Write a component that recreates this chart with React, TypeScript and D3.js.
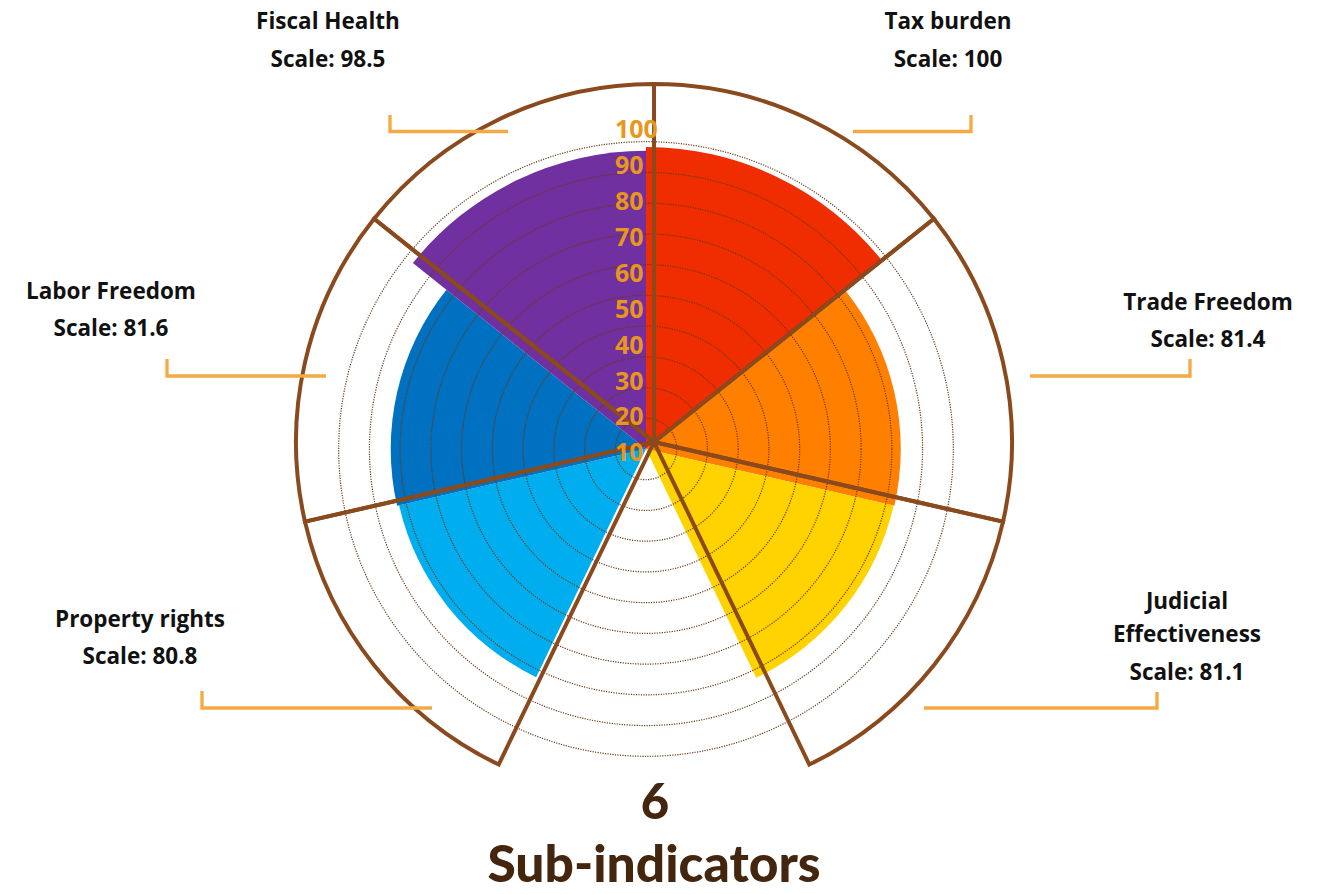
import React from "react";
import * as d3 from "d3";

// ---------- DATA ----------
const subIndicators = [
  "Tax burden",
  "Trade Freedom",
  "Judicial Effectiveness",
  "Property rights",
  "Labor Freedom",
  "Fiscal Health",
];
const scores = [100, 81.4, 81.1, 80.8, 81.6, 98.5];
// slot of each sub-indicator among the 7 equal slices (slot 3 is left empty)
const slots = [0, 1, 2, 4, 5, 6];
const slotCount = 7;
const labelLines = [
  ["Tax burden"],
  ["Trade Freedom"],
  ["Judicial", "Effectiveness"],
  ["Property rights"],
  ["Labor Freedom"],
  ["Fiscal Health"],
];
const radialTicks = [10, 20, 30, 40, 50, 60, 70, 80, 90, 100];
const titleNumber = "6";
const titleText = "Sub-indicators";

// ---------- STYLE / LAYOUT ----------
const sectorColors = ["#EF2D00", "#FF7F00", "#FFD300", "#00AEEF", "#0070C0", "#7030A0"];
const brown = "#8A4A1D";
const bracketColor = "#F4A943";
const tickColor = "#E8961C";
const titleColor = "#44260F";

// label layout: text centre x, first baseline y, line gap, bracket path points
const labelLayout = [
  { x: 948, y: 29, gap: 38, bracket: [[853, 131.5], [971, 131.5], [971, 115]] },
  { x: 1208, y: 310, gap: 37, bracket: [[1030, 376], [1190, 376], [1190, 359]] },
  { x: 1187, y: 609, gap: 33, bracket: [[924, 708], [1157, 708], [1157, 692]] },
  { x: 140, y: 627, gap: 37, bracket: [[432, 708], [202, 708], [202, 691]] },
  { x: 111, y: 299, gap: 37, bracket: [[326, 376], [167, 376], [167, 359]] },
  { x: 328, y: 29, gap: 38, bracket: [[508, 131.5], [390, 131.5], [390, 115]] },
];

const W = 1322;
const H = 894;
const frameCenter = { x: 654, y: 442 };
const frameRadius = 358;
const plotCenter = { x: 646, y: 449 };

export default function App() {
  const angle = d3.scaleLinear().domain([0, slotCount]).range([0, 2 * Math.PI]);
  const rSector = d3.scaleLinear().domain([0, 100]).range([48, 302]);
  const rGrid = d3.scaleLinear().domain([0, 100]).range([0, 307.3]);
  const tickY = d3.scaleLinear().domain([10, 100]).range([452.3, 129.2]);

  const frameArc = d3
    .arc<number>()
    .innerRadius(0)
    .outerRadius(frameRadius)
    .startAngle((s) => angle(s))
    .endAngle((s) => angle(s + 1));

  const sectorArc = d3
    .arc<{ slot: number; value: number }>()
    .innerRadius(0)
    .outerRadius((d) => rSector(d.value))
    .startAngle((d) => angle(d.slot))
    .endAngle((d) => angle(d.slot + 1));

  const labelFont = "'Open Sans', sans-serif";

  return (
    <svg
      width={W}
      height={H}
      viewBox={`0 0 ${W} ${H}`}
      style={{ position: "absolute", left: 0, top: 0, display: "block", background: "#fff" }}
    >
      {/* coloured sectors */}
      <g transform={`translate(${plotCenter.x},${plotCenter.y})`}>
        {scores.map((v, i) => (
          <path
            key={subIndicators[i]}
            d={sectorArc({ slot: slots[i], value: v }) as string}
            fill={sectorColors[i]}
          />
        ))}
        {radialTicks.map((t) => (
          <circle
            key={t}
            r={rGrid(t)}
            fill="none"
            stroke="#6A3A15"
            strokeWidth={1.2}
            strokeDasharray="1.2 1.3"
          />
        ))}
      </g>

      {/* frame wedges */}
      <g transform={`translate(${frameCenter.x},${frameCenter.y})`}>
        {slots.map((s) => (
          <path
            key={s}
            d={frameArc(s) as string}
            fill="none"
            stroke={brown}
            strokeWidth={4}
            strokeLinejoin="miter"
          />
        ))}
      </g>

      {/* radial tick labels */}
      {radialTicks.map((t) => (
        <text
          key={t}
          x={615}
          y={tickY(t)}
          dy="0.36em"
          fontFamily={labelFont}
          fontWeight={700}
          fontSize={25}
          fill={tickColor}
        >
          {t}
        </text>
      ))}

      {/* annotations */}
      {subIndicators.map((name, i) => {
        const L = labelLayout[i];
        const lines = [...labelLines[i], `Scale: ${scores[i]}`];
        return (
          <g key={name}>
            {lines.map((ln, j) => (
              <text
                key={j}
                x={L.x}
                y={L.y + j * L.gap + (j === lines.length - 1 && lines.length === 3 ? 5 : 0)}
                textAnchor="middle"
                fontFamily={labelFont}
                fontWeight={700}
                fontSize={22.5}
                fill="#111"
              >
                {ln}
              </text>
            ))}
            <path
              d={d3.line()(L.bracket as [number, number][]) as string}
              fill="none"
              stroke={bracketColor}
              strokeWidth={3.3}
            />
          </g>
        );
      })}

      {/* title */}
      <text
        x={655}
        y={819}
        textAnchor="middle"
        fontFamily="Lato, sans-serif"
        fontWeight={900}
        fontSize={49}
        fill={titleColor}
      >
        {titleNumber}
      </text>
      <text
        x={654}
        y={882}
        textAnchor="middle"
        fontFamily="Lato, sans-serif"
        fontWeight={900}
        fontSize={51.5}
        fill={titleColor}
      >
        {titleText}
      </text>
    </svg>
  );
}
